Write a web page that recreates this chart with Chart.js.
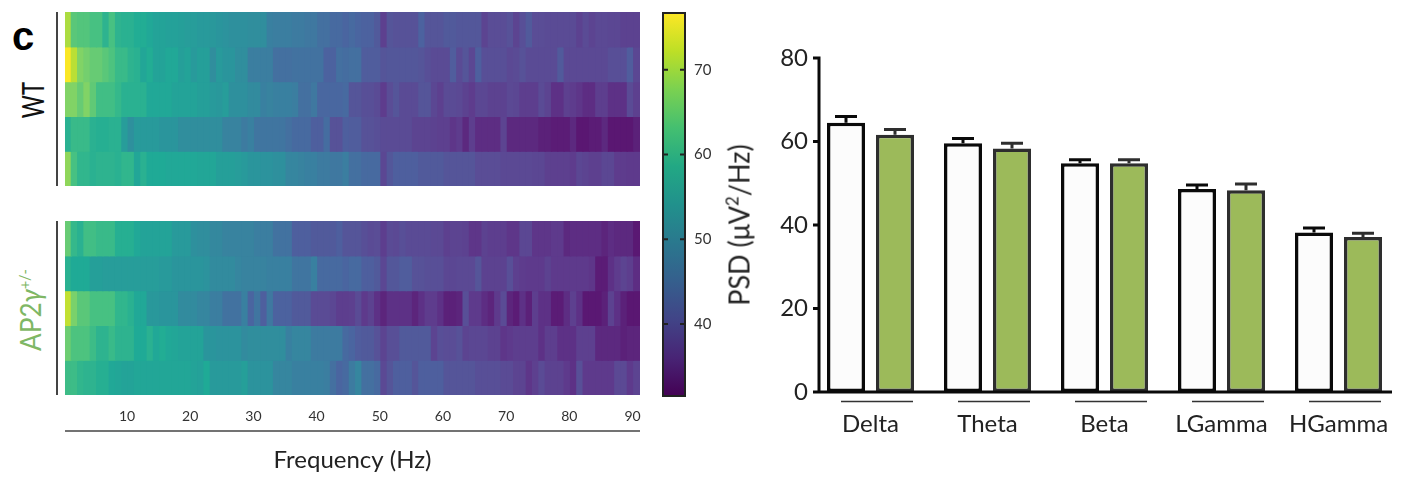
<!DOCTYPE html>
<html>
<head>
<meta charset="utf-8">
<script src="https://cdn.jsdelivr.net/npm/chart.js@4"></script>
<style>
    html, body { margin: 0; padding: 0; background: #fff; }
    body { position: relative; width: 1404px; height: 477px; overflow: hidden; font-family: Lato, sans-serif; color: #222; }
    canvas { position: absolute; }
    .txt { position: absolute; white-space: nowrap; transform-origin: center; }
    .vline { position: absolute; left: 56px; width: 2px; height: 174px; background: #444; }
</style>
</head>
<body>
<canvas id="wt-heat" style="left:65px;top:12px" width="575" height="174"></canvas>
<canvas id="ap-heat" style="left:65px;top:221px" width="587" height="256"></canvas>
<canvas id="cbar" style="left:662px;top:12px" width="60" height="385"></canvas>
<canvas id="bars" style="left:770px;top:40px" width="634" height="437"></canvas>

<div class="vline" style="top:12px"></div>
<div class="vline" style="top:221px"></div>
<div class="txt" style="left:12px;top:14px;font:bold 40px 'Liberation Sans';color:#000">c</div>
<div class="txt" style="left:32px;top:100px;font-size:31px;color:#111;transform:translate(-50%,-50%) rotate(-90deg) scaleX(0.72)">WT</div>
<div class="txt" style="left:29px;top:310px;font-size:29px;color:#7fb765;transform:translate(-50%,-50%) rotate(-90deg) scaleX(0.9)">AP2<i>γ</i><sup style="font-size:16px;line-height:0">+/-</sup></div>
<div class="txt" style="left:738px;top:225px;font-size:29px;transform:translate(-50%,-50%) rotate(-90deg) scaleX(0.93)">PSD (μV<sup style="font-size:18px;line-height:0">2</sup>/Hz)</div>

<script>
const FONT = 'Lato, sans-serif';

// PSD per frequency bin, one array per animal
const wt1 = [71,65,64.5,64.5,63.5,63.5,60.5,63.5,60.5,60,
    60,59,59,58,57,57,56.5,56.5,56,55.5,
    55.5,55,55,54.5,54,53.5,53,53,53,52.5,
    52.5,52.5,50,49.5,49.5,49.5,49,49,48.5,48.5,
    47,47,46,46,45,46,45,44.5,44.5,43,
    37.5,42,41.5,41.5,41.5,41.5,44.5,42,42,42,
    43,43,42.5,42.5,42.5,42.5,38.5,40.5,40.5,40.5,
    41.5,38.5,41,43,40.5,40.5,40,40,40,40,
    40,38,40,38.5,39.5,39.5,39,39,38,38,
    38];
const wt2 = [76.5,72,68,67,66,66,65,64,62,62,
    60.5,60,57.5,59,57,57,58,58,56,57,
    55,56,56,52.5,55,54,54,52.5,52.5,49.5,
    49.5,49.5,49.5,47,47,47,47.5,47.5,47.5,47.5,
    47.5,44.5,44.5,47,46.5,47,47,43.5,43.5,43.5,
    42,42.5,42.5,42.5,42.5,42.5,42,41,40,40,
    40,43.5,40,42,39,44,41,41,41,41,
    39.5,40,41.5,40,40,40,40,40,43,39.5,
    39.5,39.5,39.5,39.5,39.5,39.5,41,41,41,43.5,
    39];
const wt3 = [68,68,66,68,65.5,63,63,63,61.5,60,
    60,60,60,58,58,58,58,57,57,57,
    57,56,56,55,54.5,55.5,53,53,53,52,
    52,50,50.5,50,50,50,49.5,47,47,48.5,
    45.5,45.5,45.5,45.5,46,42,42,41,41,40,
    36.5,40.5,42,40,40,40,42,42,39,37.5,
    40,40,39.5,38,36.5,39,39,38,38,38,
    39.5,39,37,37,37,40,38.5,35,35,37.5,
    36.5,35.5,34.5,34.5,37,37,35,35,35,40,
    37.5];
const wt4 = [60,62,62,62,60,59.5,59.5,60,60,55.5,
    53,55,55,55,55,54,54,54,52.5,52.5,
    52.5,52.5,52.5,52.5,52.5,50.5,50.5,50.5,49,50,
    48,48,48,48,48,47,46,46,46,44,
    44,46.5,41.5,41.5,44,43.5,43.5,41.5,41.5,41,
    40,40,40,40,40,38.5,38.5,38.5,38,37.5,
    37.5,35.5,36.5,34,37,34.5,34.5,34.5,34.5,38.5,
    34,34,34,34,34,33,33,32.5,32.5,32.5,
    34,31.8,31.8,32.5,32.5,34,31.8,31.8,31.8,31.8,
    33];
const wt5 = [69,63.5,61,61,60,60.5,60.5,60.5,60,61,
    61,57.5,60,58.5,58.5,58.5,58,58,58,58,
    58,57.5,57.5,57.5,56,56,56,55.5,55,54,
    54,53.5,53.5,53,53,51,51,50.5,50,50,
    49,49,48.5,48.5,49.5,47,47,46,46,46,
    39,42.5,44,44,44,44,43,43,43,43,
    42,42,42,42,42,40.5,40.5,40.5,40.5,39.5,
    39.5,39.5,39.5,39.5,39,39,37.5,37.5,37.5,37.5,
    36.5,39,38.5,37.5,37.5,39,39,36.5,36.5,36,
    36];
const ap1 = [66,61.5,60,63,63,62,62,62,59.5,59.5,
    59.5,58,57,57,57,57,57,55,55,55,
    53,52.5,52.5,51.5,51.5,50.5,50.5,50.5,50.5,50.5,
    49.5,49.5,49.5,47.5,47.5,47.5,44,44,44,43,
    43,43,43,44,42,42,42,41,40,40.5,
    37,40,39.5,41,40,40,40,40,39.5,39.5,
    37.5,38.5,38.5,38,35.5,35.5,38,37,37,37,
    35.5,35.5,39,39,35.5,35.5,35.5,36,36,34,
    34.5,34.5,34.5,34.5,34.5,33.5,34.5,34,34,34,
    32];
const ap2 = [60,58.5,58.5,58.5,56,56,55.5,55.5,55.5,55.5,
    55.5,55.5,55.5,55.5,55.5,55,55,54,54,54,
    54,54,53.5,52,52,52,52,51,50.5,50.5,
    50.5,50.5,50,50,50,50,48,48,48,50,
    46,46,46,46,45,46,46,44,44,43,
    39,42.5,42.5,43.5,43.5,41.5,41.5,41,41,41,
    39,39,39.5,39.5,39.5,42,38,38,38,38,
    41,37.5,36.5,36,36,36,38,36,36,36,
    36,36,36,35.5,32.5,32.5,35,36.5,38.5,37,
    34.5];
const ap3 = [72.5,67.5,65,65,63.5,63.5,63.5,63.5,61,61,
    60,58,58,54.5,54.5,54,54,54,52,52,
    52,51,51,49.5,49.5,47.5,47.5,47.5,50,45,
    48,44,48.5,44.5,44.5,44.5,43,43,43,40,
    40,40,39,37,37,37.5,40,36,38,35,
    33.5,35,35,35,35,33.5,35,36.5,36.5,35,
    33,33,33.5,41,36,36,34.5,33.5,36,40,
    33.5,32.5,35,33,37,35,35,32.5,32.5,34.5,
    37.5,35,32,32,32,33,38,35,33,31.8,
    31.8];
const ap4 = [66.5,64,64,64,62.5,60.5,60.5,62,60.5,60.5,
    60.5,58.5,58.5,60,58,59,58,57.5,57,57,
    57,57,54,54,53.5,53.5,53.5,53.5,52,52.5,
    52.5,52.5,52.5,52.5,52.5,50,51,51,51,49,
    49,49,49,49,46,45,43.5,43,43,41.5,
    38.5,41,41,43,43,43,43,43,38.5,41,
    40.5,40.5,41.5,38.5,39,39,39,38,38,35.5,
    36,37,37,37,37,35,37,37,35,35,
    35,37.5,37.5,37.5,34,34,34,34,33,33.5,
    33.5];
const ap5 = [62.5,62.5,61,60.5,60.5,59.5,59.5,58,57.5,57,
    57,57.5,57.5,57.5,57.5,57.5,57.5,57.5,57.5,57.5,
    57,56.5,58.5,55,55,55,55,55,56,53.5,
    53.5,53.5,53.5,51,51,51,50,50,50,50,
    50,49.5,47,45,46,49,51,47,47,46,
    39.5,42,44,44,44,42,44,44,44,44,
    42,42,42,42,42,41,41,41,41,40,
    40,38.5,38.5,35.5,37.5,40,38,38,38,36,
    35,41,36,36,36,36,36,39.5,39.5,36,
    38.5];
const wtRows = [wt1, wt2, wt3, wt4, wt5];
const apRows = [ap1, ap2, ap3, ap4, ap5];

const freqBins = wt1.map((_, i) => i + 1);
const freqTicks = [10, 20, 30, 40, 50, 60, 70, 80, 90];
const colorbarRange = [31.5, 76.7];
const colorbarTicks = [40, 50, 60, 70];

// band power panel
const bands = ['Delta', 'Theta', 'Beta', 'LGamma', 'HGamma'];
const wtMean = [64.5, 59.6, 54.8, 48.6, 38.2];
const wtErr = [1.5, 1.1, 0.8, 1.0, 1.1];
const apMean = [61.6, 58.3, 54.8, 48.3, 37.1];
const apErr = [1.3, 1.3, 0.8, 1.5, 0.9];
const psdTicks = [0, 20, 40, 60, 80];

const viridis = [[68,1,84],[72,36,117],[65,68,135],[53,95,141],[42,120,142],[33,145,140],[34,168,132],[68,191,112],[122,209,81],[189,223,38],[253,231,37]];
// the heatmap cells print lighter and more saturated than the colorbar
const heatPalette = [[90,20,112],[94,58,140],[90,77,150],[74,101,160],[59,126,160],[42,150,156],[31,171,150],[66,191,132],[124,210,106],[189,224,51],[253,231,37]];

function paletteAt(stops, t) {
    t = Math.max(0, Math.min(1, t)) * (stops.length - 1);
    const i = Math.min(Math.floor(t), stops.length - 2);
    const f = t - i;
    return stops[i].map((c, k) => Math.round(c + (stops[i + 1][k] - c) * f));
}

function heatColor(v) {
    const c = paletteAt(heatPalette, (v - colorbarRange[0]) / (colorbarRange[1] - colorbarRange[0]));
    return 'rgb(' + c.join(',') + ')';
}

// keep the plot box exactly where the scale was asked to be
function noLabelMargins(s) {
    s.paddingLeft = s.paddingRight = s.paddingTop = s.paddingBottom = 0;
}

function heatChart(id, rows, withAxis) {
    new Chart(document.getElementById(id), {
        type: 'bar',
        data: {
            labels: freqBins,
            datasets: rows.map(r => ({
                data: r.map(() => 1),
                backgroundColor: r.map(heatColor),
                borderWidth: 0,
                inflateAmount: 0.6,
                barPercentage: 1,
                categoryPercentage: 1
            }))
        },
        options: {
            responsive: false,
            animation: false,
            layout: { padding: { right: withAxis ? 12 : 0 } },
            plugins: { legend: { display: false }, tooltip: { enabled: false } },
            scales: {
                x: {
                    display: withAxis,
                    stacked: true,
                    grid: { display: false },
                    border: { display: false },
                    afterFit: s => { if (withAxis) { s.height = 82; noLabelMargins(s); } },
                    ticks: {
                        autoSkip: false, maxRotation: 0, minRotation: 0,
                        padding: 5, labelOffset: 2, color: '#333',
                        font: { family: FONT, size: 14 },
                        callback: function(v) {
                            const l = this.getLabelForValue(v);
                            return freqTicks.includes(l) ? String(l) : '';
                        }
                    },
                    title: {
                        display: true, text: 'Frequency (Hz)', color: '#222',
                        font: { family: FONT, size: 24 },
                        padding: { top: 0, bottom: 2 }
                    }
                },
                y: { display: false, stacked: true, reverse: true, min: 0, max: rows.length }
            }
        },
        plugins: withAxis ? [{
            id: 'freqRule',
            afterDraw(chart) {
                const x = chart.scales.x, c = chart.ctx, y = chart.chartArea.bottom + 36;
                c.save();
                c.strokeStyle = '#444';
                c.lineWidth = 1.5;
                c.beginPath();
                c.moveTo(x.left, y);
                c.lineTo(x.right, y);
                c.stroke();
                c.restore();
            }
        }] : []
    });
}

heatChart('wt-heat', wtRows, false);
heatChart('ap-heat', apRows, true);

// colorbar
new Chart(document.getElementById('cbar'), {
    type: 'bar',
    data: {
        labels: ['PSD'],
        datasets: [{
            data: [colorbarRange],
            barPercentage: 1,
            categoryPercentage: 1,
            borderWidth: 0,
            backgroundColor: ctx => {
                const a = ctx.chart.chartArea;
                if (!a) return '#888';
                const g = ctx.chart.ctx.createLinearGradient(0, a.bottom, 0, a.top);
                viridis.forEach((c, i) => g.addColorStop(i / (viridis.length - 1), 'rgb(' + c.join(',') + ')'));
                return g;
            }
        }]
    },
    options: {
        responsive: false,
        animation: false,
        layout: { padding: { top: 1, bottom: 1, left: 1 } },
        plugins: { legend: { display: false }, tooltip: { enabled: false } },
        scales: {
            x: { display: false },
            y: {
                position: 'right',
                min: colorbarRange[0],
                max: colorbarRange[1],
                grid: { display: false, drawTicks: false },
                border: { display: false },
                afterFit: s => { s.width = 37; noLabelMargins(s); },
                afterBuildTicks: s => { s.ticks = colorbarTicks.map(v => ({ value: v })); },
                ticks: { padding: 9, color: '#333', font: { family: FONT, size: 15 } }
            }
        }
    },
    plugins: [{
        id: 'cbarFrame',
        afterDraw(chart) {
            const a = chart.chartArea, c = chart.ctx, y = chart.scales.y;
            c.save();
            c.strokeStyle = '#222';
            c.lineWidth = 2;
            c.strokeRect(a.left, a.top, a.right - a.left, a.bottom - a.top);
            colorbarTicks.forEach(v => {
                const p = y.getPixelForValue(v);
                c.beginPath();
                c.moveTo(a.left, p); c.lineTo(a.left + 5, p);
                c.moveTo(a.right - 5, p); c.lineTo(a.right, p);
                c.stroke();
            });
            c.restore();
        }
    }]
});

// band power bars
new Chart(document.getElementById('bars'), {
    type: 'bar',
    data: {
        labels: bands,
        datasets: [
            { label: 'WT', data: wtMean, err: wtErr, backgroundColor: '#fcfcfc', borderColor: '#0a0a0a', borderWidth: 3.5, borderSkipped: false, categoryPercentage: 0.8376, barPercentage: 0.7755 },
            { label: 'AP2y', data: apMean, err: apErr, backgroundColor: '#9cba5a', borderColor: '#2e2e2e', borderWidth: 3.5, borderSkipped: false, categoryPercentage: 0.8376, barPercentage: 0.7755 }
        ]
    },
    options: {
        responsive: false,
        animation: false,
        layout: { padding: { top: 18, right: 7 } },
        plugins: { legend: { display: false }, tooltip: { enabled: false } },
        scales: {
            x: {
                grid: { display: false, drawTicks: false },
                border: { display: false },
                afterFit: s => { s.height = 85; noLabelMargins(s); },
                ticks: { padding: 18, maxRotation: 0, color: '#222', font: { family: FONT, size: 24 } }
            },
            y: {
                min: 0,
                max: 80,
                grid: { display: false, drawTicks: false },
                border: { display: false },
                afterFit: s => { s.width = 42; noLabelMargins(s); },
                afterBuildTicks: s => { s.ticks = psdTicks.map(v => ({ value: v })); },
                ticks: { padding: 4, color: '#222', font: { family: FONT, size: 24 } }
            }
        }
    },
    plugins: [{
        id: 'axesAndErrors',
        afterDatasetsDraw(chart) {
            const c = chart.ctx, y = chart.scales.y, x = chart.scales.x, a = chart.chartArea;
            c.save();
            chart.data.datasets.forEach((ds, di) => {
                c.strokeStyle = ds.borderColor;
                c.lineWidth = 3;
                chart.getDatasetMeta(di).data.forEach((bar, i) => {
                    const top = y.getPixelForValue(ds.data[i] + ds.err[i]);
                    c.beginPath();
                    c.moveTo(bar.x, y.getPixelForValue(ds.data[i]));
                    c.lineTo(bar.x, top);
                    c.moveTo(bar.x - 11, top);
                    c.lineTo(bar.x + 11, top);
                    c.stroke();
                });
            });
            // axis lines sit a little inside the plot box, like in the figure
            const axisX = a.left + 7;
            c.strokeStyle = '#0a0a0a';
            c.lineWidth = 3;
            c.beginPath();
            c.moveTo(axisX, y.getPixelForValue(80) - 1.5);
            c.lineTo(axisX, y.getPixelForValue(0));
            c.moveTo(axisX - 6, y.getPixelForValue(0));
            c.lineTo(a.right - 5, y.getPixelForValue(0));
            psdTicks.forEach(v => {
                c.moveTo(axisX - 6, y.getPixelForValue(v));
                c.lineTo(axisX, y.getPixelForValue(v));
            });
            c.stroke();
            // underline below each pair
            c.strokeStyle = '#333';
            c.lineWidth = 1.5;
            c.beginPath();
            bands.forEach((b, i) => {
                const cx = x.getPixelForTick(i);
                c.moveTo(cx - 29.5, a.bottom + 9.5);
                c.lineTo(cx + 42.5, a.bottom + 9.5);
            });
            c.stroke();
            c.restore();
        }
    }]
});
</script>
</body>
</html>
